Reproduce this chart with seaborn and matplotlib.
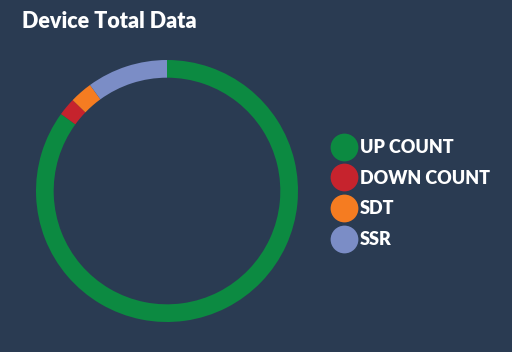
import matplotlib
matplotlib.use("Agg")
import matplotlib.pyplot as plt
from matplotlib.lines import Line2D
import seaborn as sns

# data (share of devices)
labels = ["UP COUNT", "DOWN COUNT", "SDT", "SSR"]
counts = [85.0, 2.2, 2.8, 10.0]
colors = ["#0c8a41", "#c6232d", "#f57c21", "#7b8dc6"]
bg = "#2a3b52"

sns.set_theme(style="dark")
plt.rcParams["font.family"] = ["Lato", "DejaVu Sans"]

fig = plt.figure(figsize=(5.12, 3.52), dpi=100, facecolor=bg)

# donut axes: centre ~ (167,191) px, radius ~131 px
ax = fig.add_axes([(167 - 131) / 512, (352 - 191 - 131) / 352, 262 / 512, 262 / 352])
ax.set_facecolor(bg)
ax.pie(counts, colors=colors, startangle=90, counterclock=False, radius=1,
       wedgeprops=dict(width=0.135, linewidth=0))
ax.set_xlim(-1, 1)
ax.set_ylim(-1, 1)
ax.set_aspect("equal")
ax.axis("off")

fig.text(22 / 512, 1 - 22 / 352, "Device Total Data", color="white",
         fontsize=15.5, fontweight="heavy", va="center", ha="left")

handles = [Line2D([0], [0], marker="o", linestyle="", markersize=20,
                  markerfacecolor=c, markeredgewidth=0) for c in colors]
leg = fig.legend(handles, labels, loc="upper left",
                 bbox_to_anchor=(322 / 512, 1 - 132 / 352),
                 frameon=False, labelcolor="white",
                 prop=dict(weight="heavy", size=13), handletextpad=0.1,
                 labelspacing=0.75, handlelength=1.6, borderaxespad=0)

fig.savefig("out.png", dpi=100, facecolor=bg)
